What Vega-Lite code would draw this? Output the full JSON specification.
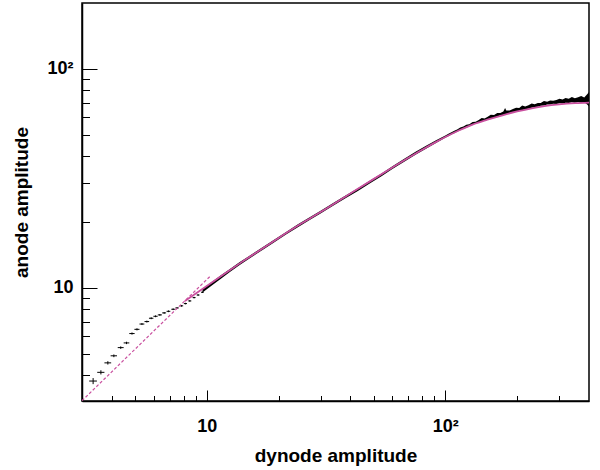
{
  "$schema": "https://vega.github.io/schema/vega-lite/v6.json",
  "width": 507,
  "height": 398,
  "autosize": {"type": "none"},
  "padding": {"left": 82, "top": 3, "right": 11, "bottom": 69},
  "background": "white",
  "config": {
    "view": {"stroke": "black", "strokeWidth": 1.5},
    "axis": {
      "grid": false,
      "domainColor": "black",
      "domainWidth": 1.5,
      "tickColor": "black",
      "tickWidth": 1,
      "labelFont": "Liberation Sans",
      "labelFontWeight": "bold",
      "labelFontSize": 18,
      "labelColor": "black",
      "labelFlush": false,
      "labelOverlap": false,
      "titleFont": "Liberation Sans",
      "titleFontWeight": "bold",
      "titleFontSize": 19,
      "titleColor": "black"
    }
  },
  "datasets": {
    "crosses": [
      {"x": 3.34, "y": 3.75, "xlo": 3.215, "xhi": 3.465, "ylo": 3.63, "yhi": 3.87},
      {"x": 3.60, "y": 4.11, "xlo": 3.475, "xhi": 3.725, "ylo": 4.02, "yhi": 4.20},
      {"x": 3.85, "y": 4.54, "xlo": 3.725, "xhi": 3.975, "ylo": 4.46, "yhi": 4.62},
      {"x": 4.08, "y": 4.89, "xlo": 3.955, "xhi": 4.205, "ylo": 4.82, "yhi": 4.96},
      {"x": 4.36, "y": 5.33, "xlo": 4.235, "xhi": 4.485, "ylo": 5.26, "yhi": 5.40},
      {"x": 4.61, "y": 5.60, "xlo": 4.485, "xhi": 4.735, "ylo": 5.53, "yhi": 5.67},
      {"x": 4.86, "y": 6.18, "xlo": 4.735, "xhi": 4.985, "ylo": 6.11, "yhi": 6.25},
      {"x": 5.10, "y": 6.46, "xlo": 4.975, "xhi": 5.225, "ylo": 6.39, "yhi": 6.53},
      {"x": 5.35, "y": 6.83, "xlo": 5.225, "xhi": 5.475, "ylo": 6.76, "yhi": 6.90},
      {"x": 5.61, "y": 7.01, "xlo": 5.485, "xhi": 5.735, "ylo": 6.94, "yhi": 7.08},
      {"x": 5.85, "y": 7.26, "xlo": 5.725, "xhi": 5.975, "ylo": 7.19, "yhi": 7.33},
      {"x": 6.10, "y": 7.41, "xlo": 5.975, "xhi": 6.225, "ylo": 7.34, "yhi": 7.48},
      {"x": 6.36, "y": 7.52, "xlo": 6.235, "xhi": 6.485, "ylo": 7.45, "yhi": 7.59},
      {"x": 6.63, "y": 7.68, "xlo": 6.505, "xhi": 6.755, "ylo": 7.61, "yhi": 7.75},
      {"x": 6.91, "y": 7.81, "xlo": 6.785, "xhi": 7.035, "ylo": 7.74, "yhi": 7.88},
      {"x": 7.23, "y": 7.98, "xlo": 7.105, "xhi": 7.355, "ylo": 7.91, "yhi": 8.05},
      {"x": 7.51, "y": 8.09, "xlo": 7.385, "xhi": 7.635, "ylo": 8.02, "yhi": 8.16},
      {"x": 7.84, "y": 8.27, "xlo": 7.715, "xhi": 7.965, "ylo": 8.20, "yhi": 8.34},
      {"x": 8.14, "y": 8.47, "xlo": 8.015, "xhi": 8.265, "ylo": 8.40, "yhi": 8.54},
      {"x": 8.49, "y": 8.71, "xlo": 8.365, "xhi": 8.615, "ylo": 8.64, "yhi": 8.78},
      {"x": 8.85, "y": 9.02, "xlo": 8.725, "xhi": 8.975, "ylo": 8.95, "yhi": 9.09},
      {"x": 9.20, "y": 9.27, "xlo": 9.075, "xhi": 9.325, "ylo": 9.20, "yhi": 9.34},
      {"x": 9.59, "y": 9.54, "xlo": 9.465, "xhi": 9.715, "ylo": 9.47, "yhi": 9.61}
    ],
    "band": [
      {"x": 9.6, "lo": 9.53, "hi": 9.89},
      {"x": 10.5, "lo": 10.25, "hi": 10.64},
      {"x": 11.5, "lo": 11.03, "hi": 11.43},
      {"x": 12.5, "lo": 11.81, "hi": 12.19},
      {"x": 13.7, "lo": 12.69, "hi": 13.07},
      {"x": 15, "lo": 13.54, "hi": 13.94},
      {"x": 17, "lo": 14.8, "hi": 15.23},
      {"x": 19, "lo": 16.02, "hi": 16.49},
      {"x": 21.5, "lo": 17.5, "hi": 18.0},
      {"x": 24, "lo": 18.88, "hi": 19.44},
      {"x": 27, "lo": 20.39, "hi": 20.99},
      {"x": 30, "lo": 21.84, "hi": 22.49},
      {"x": 34, "lo": 23.75, "hi": 24.46},
      {"x": 38, "lo": 25.58, "hi": 26.34},
      {"x": 43, "lo": 27.7, "hi": 28.52},
      {"x": 48, "lo": 29.85, "hi": 30.75},
      {"x": 54, "lo": 32.35, "hi": 33.32},
      {"x": 60, "lo": 34.9, "hi": 35.95},
      {"x": 67, "lo": 37.6, "hi": 38.8},
      {"x": 75, "lo": 40.55, "hi": 41.87},
      {"x": 83, "lo": 43.2, "hi": 44.6},
      {"x": 91, "lo": 45.7, "hi": 47.1},
      {"x": 100, "lo": 48.5, "hi": 49.6},
      {"x": 103, "lo": 49.3, "hi": 50.5},
      {"x": 106, "lo": 50.2, "hi": 51.3},
      {"x": 109, "lo": 50.8, "hi": 52.2},
      {"x": 112, "lo": 51.6, "hi": 52.9},
      {"x": 115.5, "lo": 52.4, "hi": 54.0},
      {"x": 119, "lo": 53.3, "hi": 54.5},
      {"x": 122.5, "lo": 53.9, "hi": 55.6},
      {"x": 126, "lo": 54.7, "hi": 55.8},
      {"x": 130, "lo": 55.4, "hi": 57.2},
      {"x": 134, "lo": 56.3, "hi": 57.3},
      {"x": 138, "lo": 56.8, "hi": 58.4},
      {"x": 142, "lo": 57.5, "hi": 59.6},
      {"x": 146, "lo": 57.95, "hi": 59.3},
      {"x": 150.5, "lo": 58.6, "hi": 60.4},
      {"x": 155, "lo": 59.05, "hi": 61.8},
      {"x": 160, "lo": 60.0, "hi": 61.5},
      {"x": 165, "lo": 60.5, "hi": 62.9},
      {"x": 170, "lo": 61.4, "hi": 62.9},
      {"x": 175, "lo": 61.6, "hi": 63.9},
      {"x": 178, "lo": 62.0, "hi": 66.2},
      {"x": 180, "lo": 62.3, "hi": 64.5},
      {"x": 186, "lo": 62.7, "hi": 64.6},
      {"x": 192, "lo": 63.5, "hi": 65.5},
      {"x": 198, "lo": 63.6, "hi": 66.5},
      {"x": 204, "lo": 64.4, "hi": 66.2},
      {"x": 210, "lo": 64.8, "hi": 68.1},
      {"x": 216, "lo": 65.4, "hi": 67.3},
      {"x": 223, "lo": 65.7, "hi": 68.3},
      {"x": 230, "lo": 66.5, "hi": 69.4},
      {"x": 237, "lo": 67.0, "hi": 69.0},
      {"x": 244, "lo": 67.1, "hi": 69.9},
      {"x": 251, "lo": 67.8, "hi": 69.9},
      {"x": 259, "lo": 68.0, "hi": 71.4},
      {"x": 267, "lo": 68.7, "hi": 70.8},
      {"x": 275, "lo": 68.7, "hi": 71.7},
      {"x": 283, "lo": 69.3, "hi": 71.6},
      {"x": 292, "lo": 69.1, "hi": 72.1},
      {"x": 301, "lo": 69.7, "hi": 73.0},
      {"x": 310, "lo": 69.5, "hi": 72.4},
      {"x": 319, "lo": 70.0, "hi": 73.7},
      {"x": 329, "lo": 69.8, "hi": 73.1},
      {"x": 339, "lo": 70.5, "hi": 74.5},
      {"x": 349, "lo": 70.0, "hi": 73.5},
      {"x": 360, "lo": 70.6, "hi": 74.3},
      {"x": 371, "lo": 70.0, "hi": 75.2},
      {"x": 382, "lo": 70.4, "hi": 74.1},
      {"x": 393, "lo": 68.7, "hi": 76.5},
      {"x": 400, "lo": 67.3, "hi": 78.5}
    ],
    "fit": [
      {"x": 8.1, "y": 8.7},
      {"x": 9, "y": 9.42},
      {"x": 10, "y": 10.2},
      {"x": 12, "y": 11.69},
      {"x": 14, "y": 13.1},
      {"x": 17, "y": 15.04},
      {"x": 20, "y": 16.89},
      {"x": 25, "y": 19.7},
      {"x": 30, "y": 22.19},
      {"x": 40, "y": 26.98},
      {"x": 50, "y": 31.37},
      {"x": 60, "y": 35.44},
      {"x": 70, "y": 39.24},
      {"x": 80, "y": 42.74},
      {"x": 90, "y": 45.92},
      {"x": 100, "y": 48.82},
      {"x": 115, "y": 52.57},
      {"x": 130, "y": 55.69},
      {"x": 150, "y": 58.6},
      {"x": 175, "y": 61.56},
      {"x": 200, "y": 63.91},
      {"x": 230, "y": 66.09},
      {"x": 260, "y": 67.65},
      {"x": 300, "y": 68.92},
      {"x": 350, "y": 69.77},
      {"x": 400, "y": 70.14}
    ],
    "extrap": [
      {"x": 3, "y": 3.05},
      {"x": 10.3, "y": 11.25}
    ]
  },
  "resolve": {"axis": {"x": "independent", "y": "independent"}},
  "layer": [
    {
      "data": {"name": "band"},
      "mark": {"type": "area", "color": "black", "clip": true},
      "encoding": {
        "x": {"field": "x", "type": "quantitative",
              "scale": {"type": "log", "domain": [3, 400], "nice": false},
              "axis": {"orient": "bottom", "values": [10, 100], "tickSize": -11,
                       "labelExpr": "datum.value == 100 ? '10²' : '10'",
                       "labelBaseline": "alphabetic", "labelPadding": 41,
                       "title": "dynode amplitude", "titleX": 253.5, "titleY": 60,
                       "titleBaseline": "alphabetic", "titleAlign": "center"}},
        "y": {"field": "lo", "type": "quantitative",
              "scale": {"type": "log", "domain": [3.04, 200], "nice": false},
              "axis": {"orient": "left", "values": [10, 100], "tickSize": -15,
                       "labelExpr": "datum.value == 100 ? '10²' : '10'",
                       "labelPadding": 24,
                       "title": "anode amplitude", "titleX": -55, "titleY": 199,
                       "titleAngle": -90, "titleBaseline": "alphabetic", "titleAlign": "center"}},
        "y2": {"field": "hi"}
      }
    },
    {
      "data": {"name": "crosses"},
      "mark": {"type": "rule", "color": "black", "strokeWidth": 1, "clip": true},
      "encoding": {
        "x": {"field": "xlo", "type": "quantitative",
              "scale": {"type": "log", "domain": [3, 400], "nice": false},
              "axis": {"orient": "bottom", "values": [4, 5, 6, 7, 8, 9, 20, 30, 40, 50, 60, 70, 80, 90, 200, 300],
                       "tickSize": -5.5, "labels": false, "domain": false, "title": null}},
        "x2": {"field": "xhi"},
        "y": {"field": "y", "type": "quantitative",
              "scale": {"type": "log", "domain": [3.04, 200], "nice": false},
              "axis": {"orient": "left", "values": [4, 5, 6, 7, 8, 9, 20, 30, 40, 50, 60, 70, 80, 90],
                       "tickSize": -7.5, "labels": false, "domain": false, "title": null}}
      }
    },
    {
      "data": {"name": "crosses"},
      "mark": {"type": "rule", "color": "black", "strokeWidth": 1, "clip": true},
      "encoding": {
        "x": {"field": "x", "type": "quantitative",
              "scale": {"type": "log", "domain": [3, 400], "nice": false}, "axis": null},
        "y": {"field": "ylo", "type": "quantitative",
              "scale": {"type": "log", "domain": [3.04, 200], "nice": false}, "axis": null},
        "y2": {"field": "yhi"}
      }
    },
    {
      "data": {"name": "extrap"},
      "mark": {"type": "line", "color": "#c9509f", "strokeWidth": 1.2, "strokeDash": [3, 2], "clip": true},
      "encoding": {
        "x": {"field": "x", "type": "quantitative",
              "scale": {"type": "log", "domain": [3, 400], "nice": false}, "axis": null},
        "y": {"field": "y", "type": "quantitative",
              "scale": {"type": "log", "domain": [3.04, 200], "nice": false}, "axis": null}
      }
    },
    {
      "data": {"name": "fit"},
      "mark": {"type": "line", "color": "#c9509f", "strokeWidth": 1.8, "interpolate": "monotone", "clip": true},
      "encoding": {
        "x": {"field": "x", "type": "quantitative",
              "scale": {"type": "log", "domain": [3, 400], "nice": false}, "axis": null},
        "y": {"field": "y", "type": "quantitative",
              "scale": {"type": "log", "domain": [3.04, 200], "nice": false}, "axis": null}
      }
    }
  ]
}
